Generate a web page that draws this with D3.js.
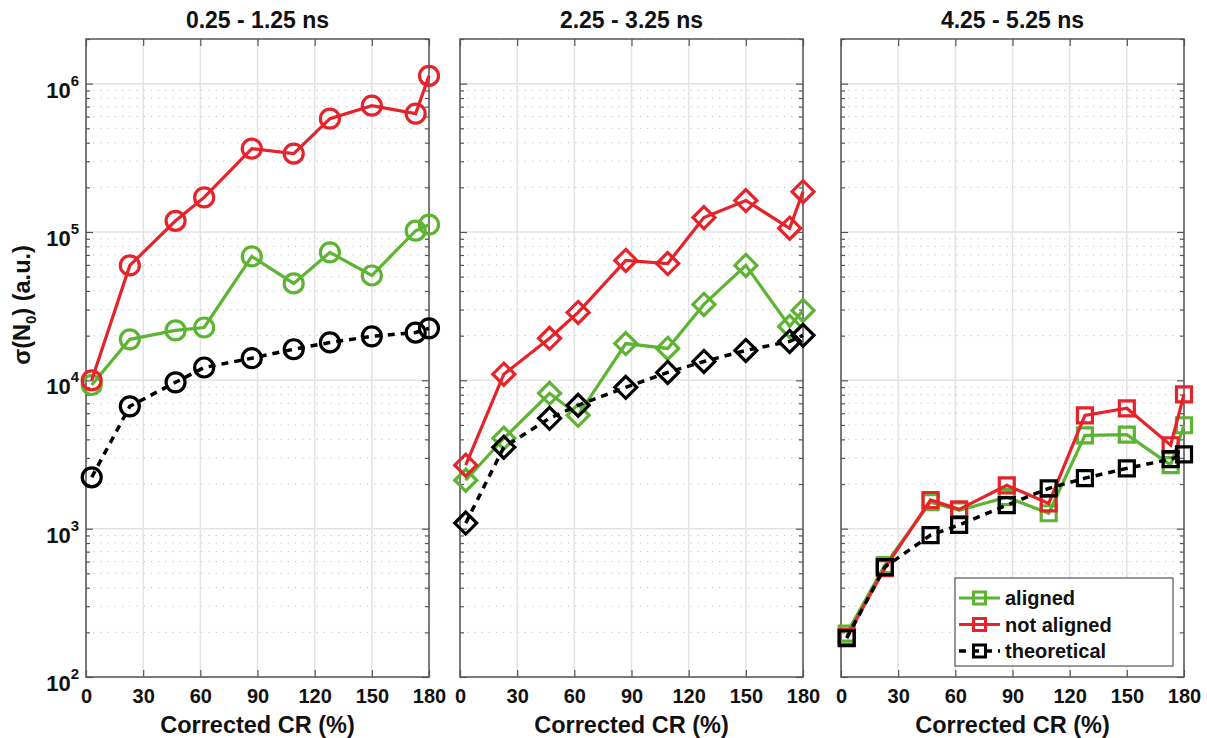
<!DOCTYPE html>
<html>
<head>
<meta charset="utf-8">
<script src="https://cdn.jsdelivr.net/npm/d3@7"></script>
<style>
  body { margin: 0; background: white; }
  text { font-family: "Liberation Sans", Arial, sans-serif; font-weight: bold; fill: #111; }
</style>
</head>
<body>
<div id="container"></div>
<script>
// data
let crValues = [3, 23, 47, 62, 87, 109, 128, 150, 173, 180];
let panelTitles = ["0.25 - 1.25 ns", "2.25 - 3.25 ns", "4.25 - 5.25 ns"];
let seriesNames = ["aligned", "not aligned", "theoretical"];
let xTicks = [0, 30, 60, 90, 120, 150, 180];
let yDecades = [1e2, 1e3, 1e4, 1e5, 1e6];
let yExponents = ["2", "3", "4", "5", "6"];

let aligned1 = [9300, 18900, 21700, 22700, 68400, 45000, 72800, 50900, 102000, 112000];
let notAligned1 = [10000, 59500, 119000, 171000, 365000, 338000, 581000, 711000, 628000, 1130000];
let theoretical1 = [2220, 6680, 9700, 12200, 14100, 16200, 18000, 19800, 21000, 22400];

let aligned2 = [2120, 4070, 8180, 5810, 17700, 16400, 32500, 59500, 23100, 29600];
let notAligned2 = [2680, 11000, 19200, 28700, 64300, 61300, 125000, 163000, 106000, 187000];
let theoretical2 = [1090, 3540, 5550, 6790, 8970, 11300, 13400, 15900, 18300, 20100];

let aligned3 = [196, 568, 1510, 1330, 1630, 1270, 4260, 4300, 2680, 4980];
let notAligned3 = [186, 542, 1560, 1350, 1960, 1480, 5810, 6480, 3650, 8050];
let theoretical3 = [183, 551, 904, 1060, 1440, 1870, 2190, 2550, 2940, 3170];

let panelData = [
  [aligned1, notAligned1, theoretical1],
  [aligned2, notAligned2, theoretical2],
  [aligned3, notAligned3, theoretical3]
];
let markerShapes = ["circle", "diamond", "square"];

let w = 1207;
let h = 738;
let panelLefts = [86, 460, 841];
let panelWidth = 343;
let plotTop = 39;
let plotBottom = 677;

let green = "#5db332";
let red = "#e6232a";
let colors = [green, red, "#000000"];
let axisColor = "#555555";

let viz = d3.select("#container")
  .append("svg")
    .attr("width", w)
    .attr("height", h)
    .style("background-color", "white")
;

let yScale = d3.scaleLog().domain([100, 2e6]).range([plotBottom, plotTop]);

// minor values 2..9 for each decade
let minorValues = [];
yDecades.forEach(function(d){
  for (let k = 2; k <= 9; k++) {
    if (d * k <= 2e6) minorValues.push(d * k);
  }
});

function markerPath(shape, cx, cy){
  if (shape == "circle") {
    let r = 9.5;
    return "M" + (cx - r) + "," + cy + " a" + r + "," + r + " 0 1,0 " + (2*r) + ",0 a" + r + "," + r + " 0 1,0 " + (-2*r) + ",0 Z";
  } else if (shape == "diamond") {
    let r = 11;
    return "M" + cx + "," + (cy - r) + " L" + (cx + r) + "," + cy + " L" + cx + "," + (cy + r) + " L" + (cx - r) + "," + cy + " Z";
  } else {
    let r = 7.5;
    return "M" + (cx - r) + "," + (cy - r) + " h" + (2*r) + " v" + (2*r) + " h" + (-2*r) + " Z";
  }
}

panelLefts.forEach(function(left, p){
  let xScale = d3.scaleLinear().domain([0, 180]).range([left, left + panelWidth]);
  let g = viz.append("g").attr("class", "panel");

  // minor grid (dotted)
  g.selectAll(".minorgrid").data(minorValues).enter()
    .append("line")
      .attr("x1", left).attr("x2", left + panelWidth)
      .attr("y1", function(d){ return yScale(d); })
      .attr("y2", function(d){ return yScale(d); })
      .attr("stroke", "#c4c4c4")
      .attr("stroke-width", 1)
      .attr("stroke-dasharray", "1.2,6")
  ;

  // major grid
  g.selectAll(".ygrid").data(yDecades).enter()
    .append("line")
      .attr("x1", left).attr("x2", left + panelWidth)
      .attr("y1", function(d){ return yScale(d); })
      .attr("y2", function(d){ return yScale(d); })
      .attr("stroke", "#e3e3e3")
      .attr("stroke-width", 1.5)
  ;
  g.selectAll(".xgrid").data(xTicks).enter()
    .append("line")
      .attr("x1", function(d){ return xScale(d); })
      .attr("x2", function(d){ return xScale(d); })
      .attr("y1", plotTop).attr("y2", plotBottom)
      .attr("stroke", "#e3e3e3")
      .attr("stroke-width", 1.5)
  ;

  // ticks, inward on all sides
  let xAxisB = d3.axisBottom(xScale).tickValues(xTicks).tickSizeInner(-7).tickSizeOuter(0).tickPadding(16);
  let xAxisT = d3.axisTop(xScale).tickValues(xTicks).tickSizeInner(-7).tickSizeOuter(0).tickFormat("");
  let yAxisL = d3.axisLeft(yScale).tickValues(yDecades).tickSizeInner(-7).tickSizeOuter(0).tickFormat("");
  let yAxisR = d3.axisRight(yScale).tickValues(yDecades).tickSizeInner(-7).tickSizeOuter(0).tickFormat("");
  let yMinorL = d3.axisLeft(yScale).tickValues(minorValues).tickSizeInner(-4).tickSizeOuter(0).tickFormat("");
  let yMinorR = d3.axisRight(yScale).tickValues(minorValues).tickSizeInner(-4).tickSizeOuter(0).tickFormat("");

  let xb = g.append("g").attr("transform", "translate(0," + plotBottom + ")").call(xAxisB);
  xb.selectAll("text")
    .attr("dy", null)
    .attr("y", 26)
    .style("font-size", "20px")
    .style("font-weight", "bold")
    .style("font-family", "'Liberation Sans', Arial, sans-serif")
    .attr("fill", "#111")
  ;
  g.append("g").attr("transform", "translate(0," + plotTop + ")").call(xAxisT);
  g.append("g").attr("transform", "translate(" + left + ",0)").call(yAxisL);
  g.append("g").attr("transform", "translate(" + (left + panelWidth) + ",0)").call(yAxisR);
  g.append("g").attr("transform", "translate(" + left + ",0)").call(yMinorL);
  g.append("g").attr("transform", "translate(" + (left + panelWidth) + ",0)").call(yMinorR);
  g.selectAll(".domain").remove();
  g.selectAll(".tick line").attr("stroke", axisColor).attr("stroke-width", 1.2);

  // box
  g.append("rect")
    .attr("x", left).attr("y", plotTop)
    .attr("width", panelWidth).attr("height", plotBottom - plotTop)
    .attr("fill", "none")
    .attr("stroke", axisColor)
    .attr("stroke-width", 1.5)
  ;

  // title
  g.append("text")
    .text(panelTitles[p])
    .attr("x", left + panelWidth / 2)
    .attr("y", 28)
    .attr("text-anchor", "middle")
    .attr("font-size", "23px")
  ;

  // x label
  g.append("text")
    .text("Corrected CR (%)")
    .attr("x", left + panelWidth / 2)
    .attr("y", 733)
    .attr("text-anchor", "middle")
    .attr("font-size", "23.5px")
  ;

  // series: lines then markers
  panelData[p].forEach(function(values, s){
    let pts = crValues.map(function(c, i){ return {x: c, y: values[i]}; });
    let line = d3.line()
      .x(function(d){ return xScale(d.x); })
      .y(function(d){ return yScale(d.y); });
    g.append("path")
      .datum(pts)
      .attr("d", line)
      .attr("fill", "none")
      .attr("stroke", colors[s])
      .attr("stroke-width", s == 2 ? 3.5 : 3.2)
      .attr("stroke-dasharray", s == 2 ? "7,6" : null)
    ;
    g.selectAll(".marker" + s).data(pts).enter()
      .append("path")
        .attr("class", "marker" + s)
        .attr("d", function(d){ return markerPath(markerShapes[p], xScale(d.x), yScale(d.y)); })
        .attr("fill", "none")
        .attr("stroke", colors[s])
        .attr("stroke-width", 3.2)
    ;
  });
});

// y tick labels (first panel only)
let yLabels = viz.append("g").attr("class", "ylabels");
yDecades.forEach(function(d, i){
  let t = yLabels.append("text")
    .attr("x", 79)
    .attr("y", yScale(d) + 14)
    .attr("text-anchor", "end")
    .attr("font-size", "22px")
  ;
  t.append("tspan").text("10");
  t.append("tspan").text(yExponents[i]).attr("font-size", "15px").attr("dy", -12);
});

// y axis title
let yTitle = viz.append("text")
  .attr("transform", "translate(30,305) rotate(-90)")
  .attr("text-anchor", "middle")
  .attr("font-size", "23.5px")
;
yTitle.append("tspan").text("σ(N");
yTitle.append("tspan").text("0").attr("font-size", "15px").attr("dy", 6);
yTitle.append("tspan").text(") (a.u.)").attr("dy", -6);

// legend
let legend = viz.append("g").attr("class", "legend");
legend.append("rect")
  .attr("x", 955).attr("y", 578)
  .attr("width", 218).attr("height", 88)
  .attr("fill", "white")
  .attr("stroke", axisColor)
  .attr("stroke-width", 1.2)
;
seriesNames.forEach(function(name, s){
  let ly = 598 + s * 26.5;
  legend.append("line")
    .attr("x1", 959).attr("x2", 1000)
    .attr("y1", ly).attr("y2", ly)
    .attr("stroke", colors[s])
    .attr("stroke-width", s == 2 ? 3.5 : 3)
    .attr("stroke-dasharray", s == 2 ? "7,6" : null)
  ;
  legend.append("path")
    .attr("d", "M" + 973.5 + "," + (ly - 6) + " h12 v12 h-12 Z")
    .attr("fill", "none")
    .attr("stroke", colors[s])
    .attr("stroke-width", 3)
  ;
  legend.append("text")
    .text(name)
    .attr("x", 1005)
    .attr("y", ly + 7)
    .attr("font-size", "20px")
  ;
});
</script>
</body>
</html>
